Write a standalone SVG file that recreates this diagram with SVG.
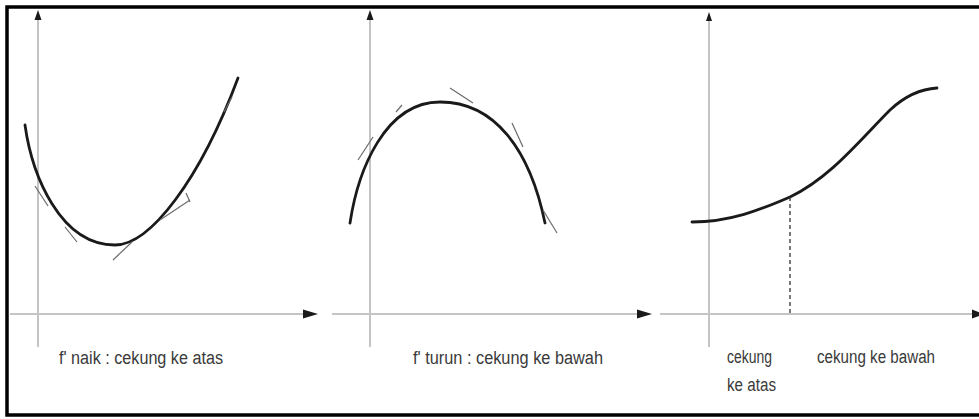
<svg xmlns="http://www.w3.org/2000/svg" width="979" height="419" viewBox="0 0 979 419">
<style>
.axis{stroke:#c4c4c4;stroke-width:2;fill:none}
.curve{stroke:#1a1a1a;stroke-width:2.8;fill:none;stroke-linecap:round}
.tan{stroke:#6a6a6a;stroke-width:1.2;fill:none}
.dash{stroke:#333;stroke-width:1.3;stroke-dasharray:4 3;fill:none}
.lbl{font-family:"Liberation Sans","DejaVu Sans",sans-serif;font-size:18px;fill:#3a3a3a}
.head{fill:#1a1a1a}
</style>
<rect x="0" y="0" width="979" height="419" fill="#fff"/>
<rect x="7" y="7" width="990" height="408" fill="none" stroke="#000" stroke-width="3.5"/>

<g id="panel1">
<line class="axis" x1="38" y1="16" x2="38" y2="347"/>
<line class="axis" x1="10" y1="314" x2="306" y2="314"/>
<polygon class="head" points="38,10 34.5,20 41.5,20"/>
<polygon class="head" points="318,314 303,309.5 303,318.5"/>
<path class="curve" d="M25,125 C32,175 60,245 115,245 C150,245 200,180 238,78"/>
<line class="tan" x1="35" y1="186" x2="48" y2="206"/>
<line class="tan" x1="65" y1="227" x2="77" y2="242"/>
<line class="tan" x1="113" y1="260" x2="132" y2="242"/>
<line class="tan" x1="160" y1="220" x2="190" y2="200"/>
<line class="tan" x1="186" y1="193" x2="190" y2="202"/>
<line class="tan" x1="232" y1="97" x2="224" y2="112"/>
<text class="lbl" x="59" y="364" textLength="164" lengthAdjust="spacingAndGlyphs">f' naik : cekung ke atas</text>
</g>

<g id="panel2">
<line class="axis" x1="370" y1="16" x2="370" y2="347"/>
<line class="axis" x1="332" y1="314" x2="640" y2="314"/>
<polygon class="head" points="370,10 366.5,20 373.5,20"/>
<polygon class="head" points="652,314 637,309.5 637,318.5"/>
<path class="curve" d="M350,223 C358,170 385,102 440,102 C495,102 530,150 545,223"/>
<line class="tan" x1="358" y1="160" x2="373" y2="137"/>
<line class="tan" x1="396" y1="112" x2="402" y2="105"/>
<line class="tan" x1="450" y1="88" x2="473" y2="103"/>
<line class="tan" x1="512" y1="123" x2="523" y2="147"/>
<line class="tan" x1="543" y1="210" x2="557" y2="233"/>
<text class="lbl" x="413" y="364" textLength="190" lengthAdjust="spacingAndGlyphs">f' turun : cekung ke bawah</text>
</g>

<g id="panel3">
<line class="axis" x1="709" y1="18" x2="709" y2="347"/>
<line class="axis" x1="660" y1="314" x2="979" y2="314"/>
<polygon class="head" points="709,12 706,21 712,21"/>
<polygon class="head" points="984,314 972,309.5 972,318.5"/>
<path class="curve" d="M692,222 C730,222 760,210 790,197 C830,178 860,140 890,110 C905,96 920,89 937,88"/>
<line class="dash" x1="790" y1="197" x2="790" y2="314"/>
<text class="lbl" x="727" y="363" textLength="45" lengthAdjust="spacingAndGlyphs">cekung</text>
<text class="lbl" x="727" y="391" textLength="49" lengthAdjust="spacingAndGlyphs">ke atas</text>
<text class="lbl" x="817" y="363" textLength="118" lengthAdjust="spacingAndGlyphs">cekung ke bawah</text>
</g>
</svg>
